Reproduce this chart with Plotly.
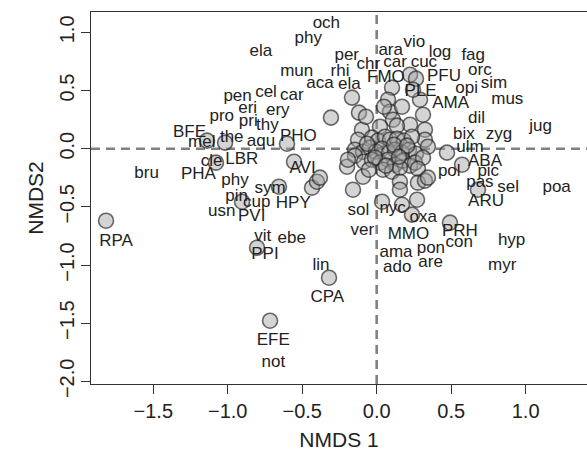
import plotly.graph_objects as go

# ---- site scores (circles) ----
site_x = [0.224, 0.264, 0.103, 0.076, 0.089, 0.170, 0.291, 0.311, 0.224, 0.324, 0.324,
          0.109, 0.136, 0.022, -0.099, -0.166, -0.119, -0.072, -0.307, 0.049, 0.244,
          -0.125, -0.032, 0.009, 0.056, 0.089, 0.136, 0.183, 0.237,
          -0.146, -0.092, -0.045, -0.005, 0.036, 0.083, 0.123, 0.170, 0.217, 0.264, 0.344,
          -0.146, -0.085, -0.032, 0.022, 0.076, 0.123, 0.177, 0.224, 0.257, 0.311,
          0.042, 0.103, 0.156, -0.199, -0.092,
          -0.065, 0.116, 0.204, -0.011, 0.150, 0.062, -0.052, 0.277, -0.193,
          -0.159, 0.156, 0.156, 0.277, 0.324, 0.344, 0.271, 0.036, 0.170, 0.237,
          0.472, 0.573, 0.680, 0.492,
          -0.434, -0.401, -0.381, -0.555, -0.656, -0.904, -0.803, -1.079, -1.139, -1.018,
          -0.602, -1.817, -0.716, -0.320]
site_y = [0.636, 0.602, 0.525, 0.421, 0.318, 0.361, 0.421, 0.292, 0.206, 0.163, 0.077,
          0.249, 0.198, 0.189, 0.163, 0.439, 0.310, 0.275, 0.267, 0.361, 0.507,
          0.077, 0.095, 0.069, 0.103, 0.077, 0.086, 0.069, 0.103,
          -0.009, -0.026, 0.009, -0.026, 0.000, -0.034, -0.009, -0.034, -0.009, -0.043, 0.017,
          -0.060, -0.112, -0.095, -0.120, -0.095, -0.138, -0.103, -0.146, -0.120, -0.077,
          -0.181, -0.198, -0.163, -0.155, -0.241,
          0.043, 0.034, 0.026, -0.077, -0.069, -0.146, -0.181, -0.172, -0.095,
          -0.353, -0.284, -0.353, -0.292, -0.275, -0.249, -0.439, -0.456, -0.482, -0.567,
          -0.034, -0.138, -0.353, -0.636,
          -0.335, -0.284, -0.249, -0.112, -0.327, -0.456, -0.851, -0.120, 0.069, 0.052,
          0.043, -0.619, -1.479, -1.109]

# ---- labels (species and sites) ----
label_names = ["och", "phy", "ela", "mun", "aca", "pen", "cel", "car", "eri", "ery",
               "pro", "pri", "thy", "BFE", "mel", "the", "aqu", "PHO",
               "vio", "ara", "per", "log", "fag", "chr", "car", "cuc", "orc", "rhi",
               "FMO", "PFU", "ela", "opi", "sim", "PLE", "mus", "AMA", "dil", "jug",
               "bix", "zyg", "ulm",
               "cle", "LBR", "AVI", "bru", "PHA", "phy", "sym", "pin", "cup", "HPY",
               "usn", "PVI", "RPA", "vit", "ebe", "PPI", "lin", "CPA",
               "pol", "ABA", "pic", "pas", "sel", "poa", "ARU", "sol", "nyc", "oxa",
               "ver", "MMO", "PRH", "con", "hyp", "ama", "pon", "are", "ado", "myr",
               "EFE", "not"]
label_x = [-0.338, -0.459, -0.777, -0.537, -0.381, -0.934, -0.743, -0.570, -0.866, -0.664,
           -1.040, -0.862, -0.734, -1.257, -1.174, -0.973, -0.777, -0.526,
           0.253, 0.094, -0.201, 0.425, 0.648, -0.056, 0.123, 0.317, 0.693, -0.246,
           0.062, 0.452, -0.184, 0.604, 0.787, 0.295, 0.877, 0.497, 0.671, 1.101,
           0.586, 0.821, 0.626,
           -1.108, -0.906, -0.497, -1.545, -1.197, -0.951, -0.716, -0.940, -0.805, -0.560,
           -1.040, -0.839, -1.750, -0.765, -0.570, -0.750, -0.374, -0.332,
           0.487, 0.727, 0.749, 0.693, 0.883, 1.208, 0.734, -0.123, 0.107, 0.313,
           -0.096, 0.213, 0.559, 0.554, 0.906, 0.130, 0.364, 0.362, 0.138, 0.843,
           -0.694, -0.694]
label_y = [1.072, 0.943, 0.837, 0.665, 0.559, 0.450, 0.479, 0.456, 0.344, 0.327,
           0.278, 0.235, 0.198, 0.135, 0.049, 0.097, 0.063, 0.100,
           0.914, 0.843, 0.800, 0.823, 0.800, 0.720, 0.737, 0.742, 0.673, 0.665,
           0.613, 0.616, 0.548, 0.513, 0.556, 0.493, 0.421, 0.387, 0.258, 0.192,
           0.120, 0.120, 0.006,
           -0.109, -0.095, -0.175, -0.218, -0.224, -0.275, -0.347, -0.410, -0.467, -0.473,
           -0.539, -0.587, -0.797, -0.759, -0.776, -0.911, -1.006, -1.284,
           -0.195, -0.109, -0.195, -0.290, -0.338, -0.338, -0.453, -0.531, -0.519, -0.596,
           -0.702, -0.739, -0.711, -0.811, -0.788, -0.891, -0.863, -0.983, -1.020, -1.006,
           -1.651, -1.843]

x_ticks = [-1.5, -1.0, -0.5, 0.0, 0.5, 1.0]
y_ticks = [-2.0, -1.5, -1.0, -0.5, 0.0, 0.5, 1.0]


def fmt(v):
    s = f"{v:.1f}"
    return s.replace("-", "\u2212")


FONT = "Liberation Sans, Arial, Helvetica, sans-serif"

fig = go.Figure()
fig.add_trace(go.Scatter(
    x=site_x, y=site_y, mode="markers",
    marker=dict(size=15, color="rgba(160,160,160,0.45)",
                line=dict(color="rgba(30,30,30,0.65)", width=1.6)),
    hoverinfo="skip", showlegend=False))
fig.add_trace(go.Scatter(
    x=label_x, y=label_y, mode="text", text=label_names,
    textposition="middle center",
    textfont=dict(family=FONT, size=17, color="#222222"),
    hoverinfo="skip", showlegend=False))

dash = dict(color="rgb(128,128,128)", width=2.6, dash="9px,6px")
fig.add_shape(type="line", xref="paper", yref="y", x0=0, x1=1, y0=0, y1=0,
              line=dash, layer="below")
fig.add_shape(type="line", xref="x", yref="paper", x0=0, x1=0, y0=0, y1=1,
              line=dash, layer="below")

fig.update_layout(
    width=587, height=451,
    margin=dict(l=91, r=0, t=12, b=67),
    paper_bgcolor="white", plot_bgcolor="white",
    font=dict(family=FONT, color="#222222"),
    xaxis=dict(range=[-1.918, 1.412], tickvals=x_ticks,
               ticktext=[fmt(v) for v in x_ticks],
               showgrid=False, zeroline=False, showline=True, mirror=True,
               linecolor="#333333", linewidth=1.2,
               ticks="outside", ticklen=9, tickwidth=1.2, tickcolor="#333333",
               tickfont=dict(size=20, color="#222222"),
               title=dict(text="NMDS 1", font=dict(size=21, color="#222222"), standoff=12)),
    yaxis=dict(range=[-2.023, 1.175], tickvals=y_ticks,
               ticktext=[fmt(v) for v in y_ticks], tickangle=-90,
               ticklabelstandoff=-1,
               showgrid=False, zeroline=False, showline=True, mirror=False,
               linecolor="#333333", linewidth=1.2,
               ticks="outside", ticklen=9, tickwidth=1.2, tickcolor="#333333",
               tickfont=dict(size=20, color="#222222"),
               title=dict(text="NMDS2", font=dict(size=21, color="#222222"), standoff=6)),
)

fig.write_html("out.html")
